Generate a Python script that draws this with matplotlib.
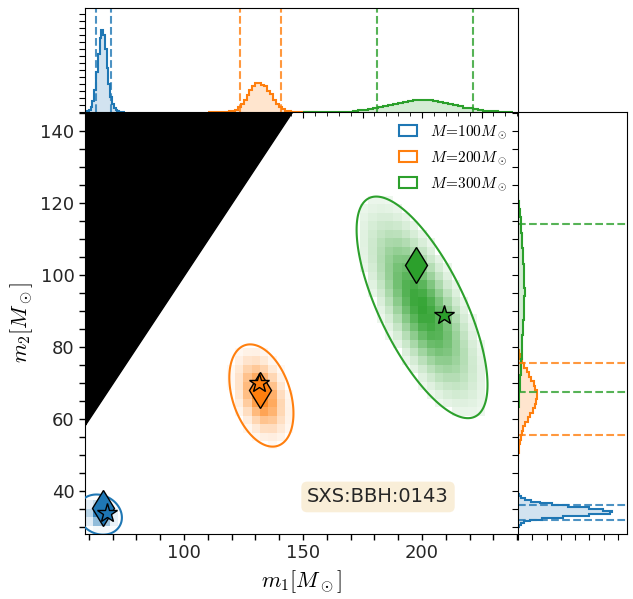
import numpy as np
import matplotlib.pyplot as plt
from matplotlib.colors import LinearSegmentedColormap
from matplotlib.patches import Patch
from matplotlib.ticker import MultipleLocator, NullFormatter

plt.rcParams['mathtext.fontset'] = 'cm'

# --- data ---
labels = [r'$M\!=\!100M_\odot$', r'$M\!=\!200M_\odot$', r'$M\!=\!300M_\odot$']
colors = ['#1f77b4', '#ff7f0e', '#2ca02c']

# posterior summary (2D): centre, spread, correlation, 90% contour radius
mu_m1 = [64.6, 132.5, 200.0]
mu_m2 = [33.4, 66.5, 91.0]
sd_m1 = [3.0, 5.5, 12.5]
sd_m2 = [1.8, 5.8, 14.0]
rho = [-0.15, -0.35, -0.7]
contour_r = [3.1, 2.45, 2.2]

# injected (diamond) and max-likelihood (star) values
inj_m1 = [66.0, 131.9, 197.5]
inj_m2 = [35.3, 68.1, 102.8]
ml_m1 = [67.6, 131.5, 209.2]
ml_m2 = [33.9, 70.0, 88.9]

# marginal histograms of m1 (top panel)
m1_start = [58.5, 110.0, 150.0]
m1_width = [0.75, 1.25, 2.1]
m1_blue = [0.2, 0.6, 2, 5, 11, 22, 40, 58, 74, 82, 77, 63, 44, 28, 15, 8, 4, 2, 1, 0.5, 0.2, 0.1]
m1_orange = [0.02, 0.03, 0.05, 0.08, 0.12, 0.2, 0.35, 0.6, 1.2, 2.4, 4.8, 7.6, 12.2, 16.8, 22.5,
             26.0, 28.6, 29.3, 27.2, 25.8, 21.4, 17.6, 12.0, 8.1, 4.6, 2.6, 1.3, 0.6, 0.3, 0.15,
             0.1, 0.06, 0.04, 0.03, 0.02, 0.01, 0.01]
m1_green = [0, 0, 0, 0, 0, 0, 0, 0, 0, 0, 1.0, 1.7, 2.4, 3.2, 3.9, 5.0, 6.0, 7.2, 8.3, 9.4,
            10.4, 11.2, 11.8, 12.0, 12.0, 11.6, 10.9, 10.0, 9.0, 7.9, 6.7, 5.6, 4.5, 3.6, 2.7,
            2.0, 1.4, 0.8, 0.6, 0, 0, 0]
m1_hists = [m1_blue, m1_orange, m1_green]
m1_lo = [63.0, 123.5, 181.1]
m1_hi = [69.3, 140.8, 221.4]

# marginal histograms of m2 (right panel)
m2_start = [29.5, 48.0, 59.0]
m2_width = [0.5, 1.25, 2.2]
m2_blue = [0.2, 0.8, 2.5, 6, 12, 24, 45, 70, 91, 93, 84, 70, 50, 34, 22, 13, 7, 3, 1.2, 0.4, 0.1]
m2_orange = [0.1, 0.3, 0.6, 1.0, 1.6, 2.6, 3.8, 5.2, 7.2, 9.8, 12.4, 14.8, 16.8, 18.2, 18.7,
             18.4, 17.3, 15.6, 13.4, 11.0, 8.6, 6.0, 3.6, 1.8, 0.9, 0.4, 0.15]
m2_green = [0.3, 0.5, 0.8, 1.2, 1.7, 2.2, 2.6, 3.0, 3.5, 3.9, 4.3, 4.8, 5.3, 5.8, 6.2, 6.4,
            6.5, 6.4, 6.2, 5.8, 5.3, 4.8, 4.3, 3.7, 3.2, 2.7, 2.0, 1.2, 0.5]
m2_hists = [m2_blue, m2_orange, m2_green]
m2_lo = [31.9, 55.6, 67.5]
m2_hi = [36.1, 75.6, 114.2]

xlim = (58.4, 240.3)
ylim = (28.0, 145.3)

fig = plt.figure(figsize=(6.33, 5.99), dpi=100)
ax_top = fig.add_axes([0.1343, 0.8130, 0.684, 0.1736])
ax_right = fig.add_axes([0.8183, 0.1085, 0.1722, 0.7045])
ax = fig.add_axes([0.1343, 0.1085, 0.684, 0.7045])
ax.set_facecolor('none')

# black forbidden region m2 > m1
xs = np.linspace(xlim[0], ylim[1], 200)
ax.fill_between(xs, xs, ylim[1], color='k', zorder=1)

# 2D histograms and contours
xe = np.arange(xlim[0], xlim[1] + 3.5, 3.5)
ye = np.arange(ylim[0], ylim[1] + 2.35, 2.35)
xc = 0.5 * (xe[1:] + xe[:-1])
yc = 0.5 * (ye[1:] + ye[:-1])
XC, YC = np.meshgrid(xc, yc)
xf = np.linspace(xlim[0] - 5, xlim[1], 500)
yf = np.linspace(ylim[0] - 5, ylim[1], 500)
XF, YF = np.meshgrid(xf, yf)


def mahal(X, Y, i):
    u = (X - mu_m1[i]) / sd_m1[i]
    v = (Y - mu_m2[i]) / sd_m2[i]
    return (u * u - 2 * rho[i] * u * v + v * v) / (1 - rho[i] ** 2)


for i in range(3):
    cmap = LinearSegmentedColormap.from_list('c%d' % i, ['white', colors[i]])
    z = mahal(XC, YC, i)
    dens = np.exp(-z / 2)
    dens = np.ma.masked_where(z > contour_r[i] ** 2, dens)
    ax.pcolormesh(xe, ye, dens, cmap=cmap, vmin=0, vmax=1.05, zorder=2)
    ax.contour(XF, YF, mahal(XF, YF, i), levels=[contour_r[i] ** 2],
               colors=colors[i], linewidths=1.5, zorder=3)
    ax.plot(inj_m1[i], inj_m2[i], 'd', ms=18, color=colors[i], mec='k', mew=1, zorder=4)
    ax.plot(ml_m1[i], ml_m2[i], '*', ms=15, color=colors[i], mec='k', mew=1, zorder=5)

ax.set_xlim(xlim)
ax.set_ylim(ylim)
ax.xaxis.set_major_locator(MultipleLocator(50))
ax.xaxis.set_minor_locator(MultipleLocator(10))
ax.yaxis.set_major_locator(MultipleLocator(20))
ax.yaxis.set_minor_locator(MultipleLocator(5))
ax.tick_params(which='both', direction='out', length=4, width=1, labelsize=13,
               labelcolor='#262626', top=False, right=False)
for s in ['top', 'right']:
    ax.spines[s].set_visible(False)
ax.set_xlabel(r'$m_1[M_\odot]$', fontsize=16)
ax.set_ylabel(r'$m_2[M_\odot]$', fontsize=16)

handles = [Patch(facecolor='none', edgecolor=c, linewidth=1.5) for c in colors]
ax.legend(handles, labels, loc='upper right', frameon=False, fontsize=11,
          handlelength=1.2, handleheight=0.75, labelspacing=0.55, borderaxespad=0.35)

ax.text(181.5, 38.3, 'SXS:BBH:0143', fontsize=14, ha='center', va='center', color='#262626',
        bbox=dict(boxstyle='round', facecolor='wheat', alpha=0.5, edgecolor='none'), zorder=6)

# top marginal
for i in range(3):
    vals = np.array(m1_hists[i])
    edges = m1_start[i] + m1_width[i] * np.arange(len(vals) + 1)
    ax_top.stairs(vals, edges, fill=True, color=colors[i], alpha=0.2)
    ax_top.stairs(vals, edges, color=colors[i], linewidth=1.5)
    ax_top.axvline(m1_lo[i], color=colors[i], ls='--', lw=1.5, alpha=0.8)
    ax_top.axvline(m1_hi[i], color=colors[i], ls='--', lw=1.5, alpha=0.8)
ytop = max(m1_blue) * 1.27
ax_top.set_xlim(xlim)
ax_top.set_ylim(0, ytop)
ax_top.xaxis.set_major_locator(MultipleLocator(25))
ax_top.xaxis.set_minor_locator(MultipleLocator(5))
ax_top.yaxis.set_major_locator(MultipleLocator(ytop * 7 / 104))
ax_top.xaxis.set_major_formatter(NullFormatter())
ax_top.yaxis.set_major_formatter(NullFormatter())
ax_top.tick_params(which='major', direction='out', length=4)
ax_top.tick_params(which='minor', direction='out', length=3)

# right marginal
for i in range(3):
    vals = np.array(m2_hists[i])
    edges = m2_start[i] + m2_width[i] * np.arange(len(vals) + 1)
    ax_right.stairs(vals, edges, fill=True, color=colors[i], alpha=0.2, orientation='horizontal')
    ax_right.stairs(vals, edges, color=colors[i], linewidth=1.5, orientation='horizontal')
    ax_right.axhline(m2_lo[i], color=colors[i], ls='--', lw=1.5, alpha=0.8)
    ax_right.axhline(m2_hi[i], color=colors[i], ls='--', lw=1.5, alpha=0.8)
xright = max(m2_blue) * 1.163
ax_right.set_ylim(ylim)
ax_right.set_xlim(0, xright)
ax_right.xaxis.set_major_locator(MultipleLocator(xright * 14.3 / 109))
ax_right.yaxis.set_major_locator(MultipleLocator(5))
ax_right.xaxis.set_major_formatter(NullFormatter())
ax_right.yaxis.set_major_formatter(NullFormatter())
ax_right.tick_params(direction='out', length=4)

fig.savefig('out.png', dpi=100)
